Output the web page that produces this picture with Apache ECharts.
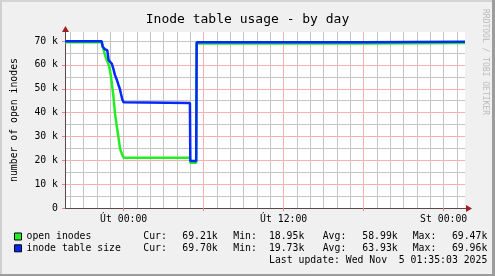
<!DOCTYPE html>
<html>
<head>
<meta charset="utf-8">
<script src="https://cdn.jsdelivr.net/npm/echarts@6/dist/echarts.min.js"></script>
<style>
html,body{margin:0;padding:0;background:#F0F0F0;}
#c{width:495px;height:276px;}
</style>
</head>
<body>
<div id="c"></div>
<script>
// ---- data (hours relative to "Út 00:00", values in inodes) ----
const greenHours = [-4.4, -1.65, -1.55, -1.40, -1.27, -1.15, -1.025, -0.90, -0.78, -0.65, -0.53, -0.40, -0.275, -0.15, 0.0, 4.97, 5.0, 5.44, 5.475, 17.95, 17.99, 25.6];
const greenValues = [69470, 69470, 67200, 64100, 62000, 60600, 57800, 52900, 47400, 39700, 34800, 30000, 25000, 22900, 21100, 21100, 18950, 18950, 69000, 69000, 69210, 69210];
const blueHours = [-4.4, -1.65, -1.57, -1.40, -1.23, -1.15, -1.13, -1.025, -0.90, -0.78, -0.65, -0.53, -0.40, -0.275, -0.20, -0.10, 0.0, 0.07, 4.97, 5.0, 5.44, 5.475, 17.95, 17.99, 25.6];
const blueValues = [69960, 69960, 67600, 66500, 66200, 65500, 62000, 61300, 60600, 58500, 55700, 54000, 51800, 49800, 47800, 45500, 44300, 44000, 44000, 19730, 19730, 69450, 69450, 69700, 69700];

const xLabelHours = [0, 12, 24];
const xLabelTexts = ['Út 00:00', 'Út 12:00', 'St 00:00'];
const yLabelValues = [0, 10000, 20000, 30000, 40000, 50000, 60000, 70000];
const yLabelTexts = ['0', '10 k', '20 k', '30 k', '40 k', '50 k', '60 k', '70 k'];

const seriesNames = ['open inodes', 'inode table size'];
const curTexts = ['69.21k', '69.70k'];
const minTexts = ['18.95k', '19.73k'];
const avgTexts = ['58.99k', '63.93k'];
const maxTexts = ['69.47k', '69.96k'];
const titleText = 'Inode table usage - by day';
const yAxisTitle = 'number of open inodes';
const lastUpdate = 'Last update: Wed Nov  5 01:35:03 2025';
const watermark = 'RRDTOOL / TOBI OETIKER';

// ---- styling / layout ----
const FONT = 'DejaVu Sans Mono';
const X_MIN = -4.4, X_MAX = 25.6, Y_MAX = 73800;
const GL = 65, GT = 32, GW = 400, GH = 176;
const colors = ['#22EE22', '#0028FF'];
const MINOR = '#C4C4C4', MAJOR = '#F2B0B0';

const majorX = [];
for (let h = Math.ceil(X_MIN); h <= Math.floor(X_MAX); h++) {
  if (h % 6 === 0) majorX.push(h);
}

const pairs = (t, v) => t.map((h, i) => [h, v[i]]);

const chart = echarts.init(document.getElementById('c'), null, {renderer: 'canvas'});

const legendRowY = [236.5, 248.3];
const graphics = [];
// frame
graphics.push({type: 'rect', shape: {x: 0, y: 0, width: 495, height: 2}, style: {fill: '#D4D4D4'}, silent: true});
graphics.push({type: 'rect', shape: {x: 0, y: 0, width: 2, height: 276}, style: {fill: '#D0D0D0'}, silent: true});
graphics.push({type: 'rect', shape: {x: 492, y: 0, width: 3, height: 276}, style: {fill: '#9C9C9C'}, silent: true});
graphics.push({type: 'rect', shape: {x: 0, y: 274, width: 495, height: 2}, style: {fill: '#9C9C9C'}, silent: true});
// arrows
graphics.push({type: 'line', shape: {x1: 465, y1: 208.5, x2: 468, y2: 208.5}, style: {stroke: '#5A4848', lineWidth: 1}, silent: true, z: 10});
graphics.push({type: 'polygon', shape: {points: [[466, 205], [472, 208.5], [466, 212]]}, style: {fill: '#A02020'}, silent: true, z: 10});
graphics.push({type: 'polygon', shape: {points: [[62, 32], [65.5, 26], [69, 32]]}, style: {fill: '#A02020'}, silent: true, z: 10});
// watermark
graphics.push({type: 'text', x: 485, y: 62, rotation: -Math.PI / 2,
  style: {text: watermark, font: '8px "' + FONT + '"', fill: '#BBBBBB', align: 'center', verticalAlign: 'middle'}, silent: true});
// legend
for (let i = 0; i < 2; i++) {
  const y = legendRowY[i];
  graphics.push({type: 'rect', shape: {x: 14.5, y: y - 3.5, width: 7, height: 7}, style: {fill: colors[i], stroke: '#000', lineWidth: 1}, silent: true});
  const txt = (s, x, align) => graphics.push({type: 'text', x: x, y: y,
    style: {text: s, font: '9.8px "' + FONT + '"', fill: '#000', align: align, verticalAlign: 'middle'}, silent: true});
  txt(seriesNames[i], 26.5, 'left');
  txt('Cur:', 143.3, 'left');
  txt(curTexts[i], 217.7, 'right');
  txt('Min:', 233.3, 'left');
  txt(minTexts[i], 304.3, 'right');
  txt('Avg:', 322.7, 'left');
  txt(avgTexts[i], 397.7, 'right');
  txt('Max:', 412.7, 'left');
  txt(maxTexts[i], 487.3, 'right');
}
graphics.push({type: 'text', x: 487.3, y: 260,
  style: {text: lastUpdate, font: '9.8px "' + FONT + '"', fill: '#000', align: 'right', verticalAlign: 'middle'}, silent: true});

chart.setOption({
  animation: false,
  backgroundColor: '#F0F0F0',
  title: {
    text: titleText, left: 'center', top: 8,
    textStyle: {fontFamily: FONT, fontSize: 13, fontWeight: 'normal', color: '#000'}
  },
  grid: {z: 0, left: GL, top: GT, width: GW, height: GH, show: true, backgroundColor: '#FFFFFF', borderWidth: 0},
  xAxis: [
    {
      type: 'value', min: X_MIN, max: X_MAX, z: 2,
      axisLine: {show: true, onZero: false, lineStyle: {color: '#5A4848', width: 1}},
      axisTick: {show: true, customValues: majorX, length: 3, lineStyle: {color: '#F08080'}},
      axisLabel: {
        customValues: xLabelHours, margin: 6,
        fontFamily: FONT, fontSize: 9.8, color: '#000',
        formatter: v => { const i = xLabelHours.indexOf(v); return i >= 0 ? xLabelTexts[i] : ''; }
      },
      splitLine: {show: true, showMinLine: false, showMaxLine: false, lineStyle: {color: MAJOR, width: 1}}
    },
    {
      type: 'value', min: X_MIN, max: X_MAX, splitNumber: 30, z: 1,
      axisLine: {show: false, onZero: false}, axisTick: {show: false}, axisLabel: {show: false},
      splitLine: {show: true, showMinLine: false, showMaxLine: false, lineStyle: {color: MINOR, width: 1}}
    }
  ],
  yAxis: [
    {
      type: 'value', min: 0, max: Y_MAX, interval: 10000, z: 2,
      name: yAxisTitle, nameLocation: 'middle', nameRotate: 90, nameGap: 46,
      nameTextStyle: {fontFamily: FONT, fontSize: 9.8, color: '#000'},
      axisLine: {show: true, onZero: false, lineStyle: {color: '#5A4848', width: 1}},
      axisTick: {show: true, customValues: yLabelValues, length: 3, lineStyle: {color: '#F08080'}},
      axisLabel: {
        customValues: yLabelValues, margin: 7,
        fontFamily: FONT, fontSize: 9.8, color: '#000',
        formatter: v => { const i = yLabelValues.indexOf(v); return i >= 0 ? yLabelTexts[i] : ''; }
      },
      splitLine: {show: true, showMinLine: false, showMaxLine: false, lineStyle: {color: MAJOR, width: 1}}
    },
    {
      type: 'value', min: 0, max: Y_MAX, interval: 5000, z: 1,
      axisLine: {show: false, onZero: false}, axisTick: {show: false}, axisLabel: {show: false},
      splitLine: {show: true, showMinLine: false, showMaxLine: false, lineStyle: {color: MINOR, width: 1}}
    }
  ],
  graphic: graphics,
  series: [
    {
      name: seriesNames[0], type: 'line', z: 3, data: pairs(greenHours, greenValues),
      showSymbol: false, lineStyle: {color: colors[0], width: 2.5}, itemStyle: {color: colors[0]}
    },
    {
      name: seriesNames[1], type: 'line', z: 4, data: pairs(blueHours, blueValues),
      showSymbol: false, lineStyle: {color: colors[1], width: 2.5}, itemStyle: {color: colors[1]}
    }
  ]
});
</script>
</body>
</html>
